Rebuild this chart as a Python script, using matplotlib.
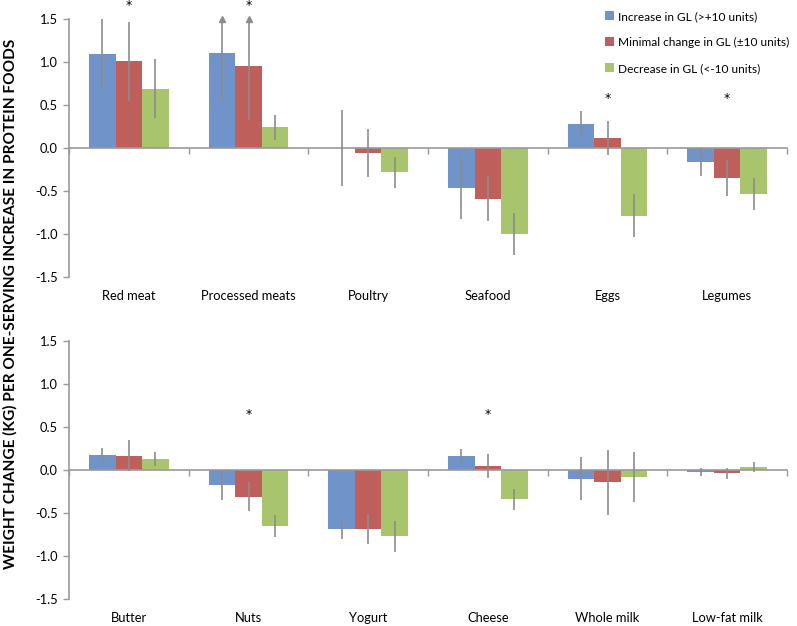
import numpy as np
import matplotlib
matplotlib.use('Agg')
from matplotlib import pyplot as plt

plt.rcParams['font.family'] = ['Lato', 'DejaVu Sans']

# Серии и цвета
series = ['Increase in GL (>+10 units)',
          'Minimal change in GL (±10 units)',
          'Decrease in GL (<-10 units)']
colors = ['#7094C9', '#BE5F5C', '#A8C46C']

# Верхняя панель
top_foods = ['Red meat', 'Processed meats', 'Poultry', 'Seafood', 'Eggs', 'Legumes']
top_increase = [1.09, 1.10, 0.0, -0.46, 0.28, -0.16]
top_minimal = [1.01, 0.95, -0.055, -0.59, 0.12, -0.35]
top_decrease = [0.69, 0.24, -0.28, -1.0, -0.79, -0.535]
top_increase_err = [0.41, 0.55, 0.445, 0.37, 0.15, 0.16]
top_minimal_err = [0.46, 0.62, 0.28, 0.26, 0.2, 0.21]
top_decrease_err = [0.34, 0.145, 0.18, 0.24, 0.25, 0.19]
top_stars = [1.66, 1.66, None, None, 0.58, 0.58]

# Нижняя панель
bottom_foods = ['Butter', 'Nuts', 'Yogurt', 'Cheese', 'Whole milk', 'Low-fat milk']
bottom_increase = [0.178, -0.18, -0.69, 0.163, -0.10, -0.02]
bottom_minimal = [0.166, -0.31, -0.69, 0.05, -0.144, -0.04]
bottom_decrease = [0.13, -0.65, -0.77, -0.34, -0.086, 0.035]
bottom_increase_err = [0.08, 0.17, 0.11, 0.08, 0.25, 0.045]
bottom_minimal_err = [0.18, 0.17, 0.175, 0.14, 0.38, 0.065]
bottom_decrease_err = [0.08, 0.13, 0.18, 0.12, 0.29, 0.06]
bottom_stars = [None, 0.65, None, 0.65, None, None]

y_ticks = [-1.5, -1.0, -0.5, 0.0, 0.5, 1.0, 1.5]
axis_grey = '#9a9a9a'
err_grey = '#8c8c8c'
fs = 9.3


def draw_panel(ax, foods, values, errors, stars):
    x = np.arange(len(foods))
    w = 2 / 9
    ymax = y_ticks[-1]
    for i, (vals, errs, c, lab) in enumerate(zip(values, errors, colors, series)):
        pos = x + (i - 1) * w
        ax.bar(pos, vals, w, color=c, label=lab, zorder=2)
        ax.errorbar(pos, vals, yerr=errs, fmt='none', ecolor=err_grey,
                    elinewidth=1.2, capsize=0, zorder=3)
        # стрелка, если ошибка выходит за ось
        for p, v, e in zip(pos, vals, errs):
            if v + e > ymax:
                ax.plot(p, ymax, marker='^', markersize=4, color=err_grey,
                        clip_on=False, zorder=4)
    for xi, s in zip(x, stars):
        if s is not None:
            ax.text(xi, s, '*', ha='center', va='center', fontsize=9,
                    family='DejaVu Sans', clip_on=False)
    for xi, name in zip(x, foods):
        ax.text(xi, -0.074, name, ha='center', va='center', fontsize=fs,
                transform=ax.get_xaxis_transform())

    ax.set_xlim(-0.5, len(foods) - 0.5)
    ax.set_ylim(y_ticks[0], y_ticks[-1])
    ax.set_yticks(y_ticks)
    ax.set_yticklabels(['%.1f' % t for t in y_ticks], fontsize=fs)
    ax.set_xticks(np.arange(len(foods) + 1) - 0.5)
    ax.set_xticklabels([])
    ax.tick_params(axis='both', direction='out', length=4, color=axis_grey,
                   width=1)
    ax.tick_params(axis='y', pad=4)
    for side in ['top', 'right']:
        ax.spines[side].set_visible(False)
    ax.spines['bottom'].set_position(('data', 0))
    ax.spines['bottom'].set_color(axis_grey)
    ax.spines['left'].set_color(axis_grey)
    ax.spines['bottom'].set_linewidth(1.2)
    ax.spines['left'].set_linewidth(1.2)


fig = plt.figure(figsize=(7.97, 6.26), dpi=100)
ax1 = fig.add_axes([0.0866, 0.5575, 0.9009, 0.4121])
ax2 = fig.add_axes([0.0866, 0.0431, 0.9009, 0.4122])

draw_panel(ax1, top_foods,
           [top_increase, top_minimal, top_decrease],
           [top_increase_err, top_minimal_err, top_decrease_err], top_stars)
draw_panel(ax2, bottom_foods,
           [bottom_increase, bottom_minimal, bottom_decrease],
           [bottom_increase_err, bottom_minimal_err, bottom_decrease_err],
           bottom_stars)

handles, labels = ax1.get_legend_handles_labels()
fig.legend(handles, labels, loc='upper left', bbox_to_anchor=(0.752, 0.992),
           frameon=False, fontsize=8.6, handlelength=0.75, handleheight=0.75,
           handletextpad=0.3, labelspacing=1.25, borderpad=0)

fig.text(0.013, 0.514,
         'WEIGHT CHANGE (KG) PER ONE-SERVING INCREASE IN PROTEIN FOODS',
         rotation=90, ha='center', va='center', fontsize=11.1,
         fontweight='bold')

fig.savefig('out.png', dpi=100)
